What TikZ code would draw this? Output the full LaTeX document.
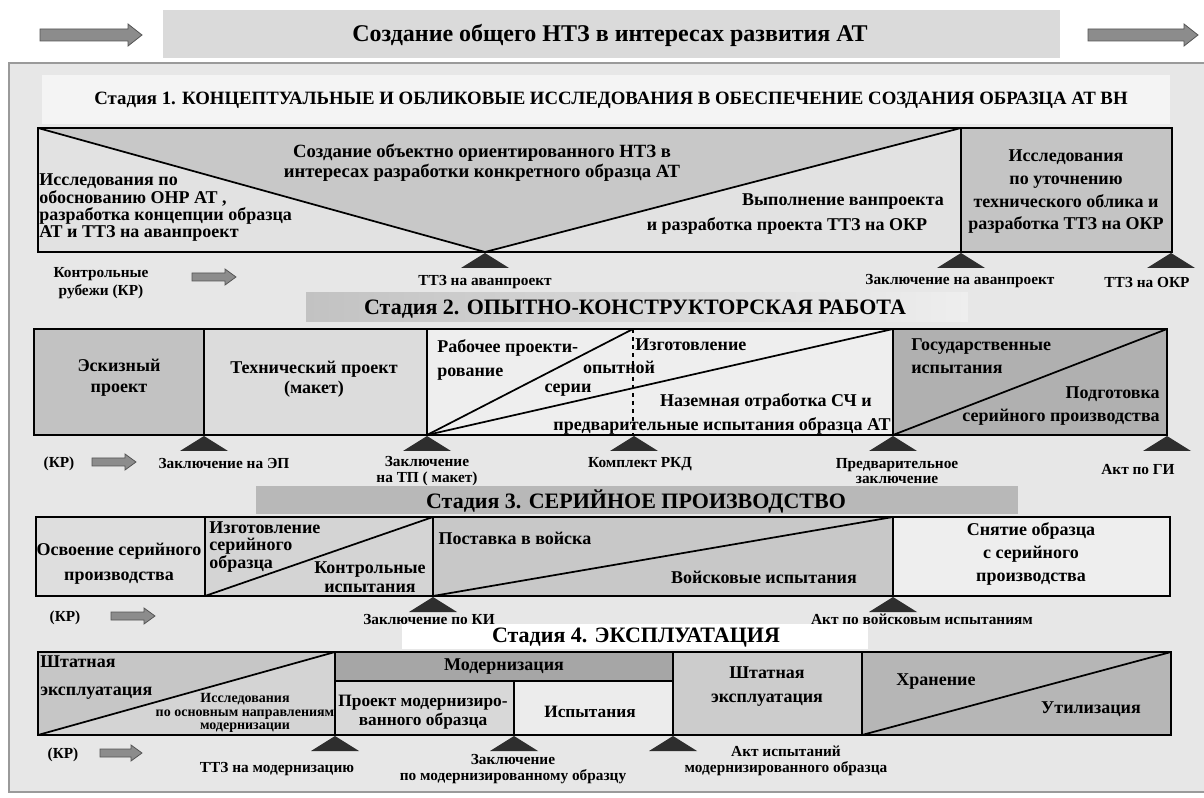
\documentclass[tikz,border=0pt]{standalone}
\usepackage{fontspec}
\setmainfont{Liberation Serif}
\definecolor{bgc}{HTML}{E7E7E7}
\definecolor{framec}{HTML}{9A9A9A}
\definecolor{bannerc}{HTML}{DADADA}
\definecolor{s1hc}{HTML}{F4F4F4}
\definecolor{c1up}{HTML}{C8C8C8}
\definecolor{c1lo}{HTML}{E2E2E2}
\definecolor{c1r}{HTML}{C4C4C4}
\definecolor{c2a}{HTML}{C2C2C2}
\definecolor{c2b}{HTML}{DCDCDC}
\definecolor{c2c}{HTML}{EEEEEE}
\definecolor{c2d}{HTML}{B0B0B0}
\definecolor{c3h}{HTML}{B8B8B8}
\definecolor{c3a}{HTML}{DEDEDE}
\definecolor{c3b}{HTML}{D4D4D4}
\definecolor{c3c}{HTML}{C8C8C8}
\definecolor{c3d}{HTML}{EEEEEE}
\definecolor{c4a}{HTML}{C6C6C6}
\definecolor{c4b}{HTML}{D4D4D4}
\definecolor{c4m}{HTML}{A6A6A6}
\definecolor{c4p}{HTML}{D8D8D8}
\definecolor{c4i}{HTML}{ECECEC}
\definecolor{c4s}{HTML}{CCCCCC}
\definecolor{c4h}{HTML}{B6B6B6}
\definecolor{mkc}{HTML}{2E2E2E}
\definecolor{arrf}{HTML}{8C8C8C}
\definecolor{arrl}{HTML}{555555}
\newcommand\barrow[6]{\filldraw[fill=arrf,draw=arrl,line width=0.6pt] (#1,{#3-#4}) -- ({#2-#6},{#3-#4}) -- ({#2-#6},{#3-#5}) -- (#2,#3) -- ({#2-#6},{#3+#5}) -- ({#2-#6},{#3+#4}) -- (#1,{#3+#4}) -- cycle;}
\newcommand\mk[2]{\fill[mkc] (#1,#2) -- ({#1+24},{#2+15}) -- ({#1-24},{#2+15}) -- cycle;}
\begin{document}
\begin{tikzpicture}[x=0.75pt,y=-0.75pt,
  every node/.style={inner sep=0pt,align=center},
  box/.style={draw=black,line width=1.4pt},
  ln/.style={line width=1.3pt,line cap=round},
  fs/.style 2 args={font=\bfseries\fontsize{#1}{#2}\selectfont}]
\useasboundingbox (0,0) rectangle (1204,798);
\fill[white] (0,0) rectangle (1204,798);
% frame
\fill[bgc] (9,63) rectangle (1204,792);
\draw[framec,line width=1.5pt] (1210,63) -- (9,63) -- (9,792) -- (1210,792);
% title
\fill[bannerc] (163,10) rectangle (1060,58);
\node[fs={18}{20}] (title) at (610,35) {Создание общего НТЗ в интересах развития АТ};
\barrow{40}{142}{35}{6}{11}{14}
\barrow{1088}{1198}{35}{6}{11}{14}
% ---------- stage 1
\fill[s1hc] (42,75) rectangle (1170,124);
\node[fs={14.1}{16}] (h1) at (611,100) {Стадия 1. КОНЦЕПТУАЛЬНЫЕ И ОБЛИКОВЫЕ ИССЛЕДОВАНИЯ В ОБЕСПЕЧЕНИЕ СОЗДАНИЯ ОБРАЗЦА АТ ВН};
\fill[c1lo] (38,128) rectangle (961,252);
\fill[c1up] (38,128) -- (485,252) -- (961,128) -- cycle;
\fill[c1r] (961,128) rectangle (1172,252);
\draw[ln] (38,128) -- (485,252) -- (961,128);
\draw[box] (38,128) rectangle (1172,252);
\draw[box] (961,128) -- (961,252);
\node[fs={13.5}{13}, anchor=west, align=left] (s1a) at (39,208) {Исследования по\\обоснованию ОНР АТ ,\\разработка концепции образца\\АТ и ТТЗ на аванпроект};
\node[fs={14}{15}] (s1b) at (482,163) {Создание объектно ориентированного НТЗ в\\интересах разработки конкретного образца АТ};
\node[fs={13.5}{15}] (s1c) at (843,202) {Выполнение ванпроекта};
\node[fs={13.5}{15}] (s1d) at (787,226) {и разработка проекта ТТЗ на ОКР};
\node[fs={13.5}{17}] (s1e) at (1066,192) {Исследования\\по уточнению\\технического облика и\\разработка ТТЗ на ОКР};
\mk{485}{253}\mk{961}{253}\mk{1171}{253}
\node[fs={11.5}{14}] (kr1) at (101,283) {Контрольные\\рубежи (КР)};
\barrow{192}{236}{277}{4}{8}{11}
\node[fs={11.5}{14}] (m11) at (485,282) {ТТЗ на аванпроект};
\node[fs={11.5}{14}] (m12) at (960,281) {Заключение на аванпроект};
\node[fs={11.5}{14}] (m13) at (1147,283) {ТТЗ на ОКР};
% ---------- stage 2
\shade[left color=c2a, right color=c2c] (306,293) rectangle (968,322);
\node[fs={16.5}{18}] (h2) at (635,309) {Стадия 2. ОПЫТНО-КОНСТРУКТОРСКАЯ РАБОТА};
\fill[c2a] (34,329) rectangle (204,435);
\fill[c2b] (204,329) rectangle (427,435);
\fill[c2c] (427,329) rectangle (893,435);
\fill[c2d] (893,329) rectangle (1167,435);
\draw[ln] (427,435) -- (633,329);
\draw[ln] (427,435) -- (893,329);
\draw[ln] (893,435) -- (1167,329);
\draw[dashed,line width=0.9pt] (633,329) -- (633,435);
\draw[box] (34,329) rectangle (1167,435);
\draw[box] (204,329) -- (204,435) (427,329) -- (427,435) (893,329) -- (893,435);
\node[fs={13.5}{16}] (s2a) at (119,378) {Эскизный\\проект};
\node[fs={13.5}{15}] (s2b) at (314,379) {Технический проект\\(макет)};
\node[fs={13.5}{18}, anchor=west, align=left] (s2c) at (437,360) {Рабочее проекти-\\рование};
\node[fs={13.5}{15}] (s2d) at (619,367) {опытной};
\node[fs={13.5}{15}] (s2e) at (568,390) {серии};
\node[fs={13.5}{15}, anchor=west] (s2f) at (635,345) {Изготовление};
\node[fs={13.5}{15}] (s2g) at (766,402) {Наземная отработка СЧ и};
\node[fs={13.5}{15}] (s2h) at (722,426) {предварительные испытания образца АТ};
\node[fs={13.5}{17}, anchor=west, align=left] (s2i) at (911,356) {Государственные\\испытания};
\node[fs={13.5}{17}, anchor=east, align=right] (s2j) at (1160,406) {Подготовка\\серийного производства};
\mk{204}{436}\mk{427}{436}\mk{634}{436}\mk{893}{436}\mk{1167}{436}
\node[fs={11.5}{14}] (kr2) at (59,464) {(КР)};
\barrow{92}{136}{462}{4}{8}{11}
\node[fs={11.5}{14}] (m21) at (224,464) {Заключение на ЭП};
\node[fs={11.5}{12}] (m22) at (427,471) {Заключение\\на ТП ( макет)};
\node[fs={11.5}{14}] (m23) at (640,464) {Комплект РКД};
\node[fs={11.5}{11.5}] (m24) at (897,471) {Предварительное\\заключение};
\node[fs={11.5}{14}] (m25) at (1138,470) {Акт по ГИ};
% ---------- stage 3
\fill[c3h] (256,486) rectangle (1018,514);
\node[fs={16.5}{18}] (h3) at (636,501) {Стадия 3. СЕРИЙНОЕ ПРОИЗВОДСТВО};
\fill[c3a] (36,517) rectangle (205,596);
\fill[c3b] (205,517) rectangle (433,596);
\fill[c3c] (433,517) rectangle (893,596);
\fill[c3d] (893,517) rectangle (1170,596);
\draw[ln] (205,596) -- (433,517);
\draw[ln] (433,596) -- (893,517);
\draw[box] (36,517) rectangle (1170,596);
\draw[box] (205,517) -- (205,596) (433,517) -- (433,596) (893,517) -- (893,596);
\node[fs={13.5}{19}] (s3a) at (119,564) {Освоение серийного\\производства};
\node[fs={13.5}{13}, anchor=west, align=left] (s3b) at (209,547) {Изготовление\\серийного\\образца};
\node[fs={13.5}{14.5}] (s3c) at (370,577) {Контрольные\\испытания};
\node[fs={13.5}{15}] (s3d) at (515,538) {Поставка в войска};
\node[fs={13.5}{15}] (s3e) at (764,577) {Войсковые испытания};
\node[fs={13.5}{17}] (s3f) at (1031,554) {Снятие образца\\с серийного\\производства};
\mk{433}{597}\mk{893}{597}
% stage 4 header band (behind the stage 3 labels)
\fill[white] (402,624) rectangle (868,649);
\node[fs={11.5}{14}] (kr3) at (65,618) {(КР)};
\barrow{111}{155}{616}{4}{8}{11}
\node[fs={11.5}{14}] (m31) at (429,619) {Заключение по КИ};
\node[fs={11.5}{14}] (m32) at (922,619) {Акт по войсковым испытаниям};
% ---------- stage 4
\node[fs={16.5}{18}] (h4) at (636,638) {Стадия 4. ЭКСПЛУАТАЦИЯ};
\fill[c4a] (38,652) -- (335,652) -- (38,735) -- cycle;
\fill[c4b] (335,652) -- (335,735) -- (38,735) -- cycle;
\fill[c4m] (335,652) rectangle (673,681);
\fill[c4p] (335,681) rectangle (514,735);
\fill[c4i] (514,681) rectangle (673,735);
\fill[c4s] (673,652) rectangle (862,735);
\fill[c4h] (862,652) rectangle (1171,735);
\draw[ln] (38,735) -- (335,652);
\draw[ln] (862,735) -- (1171,652);
\draw[box] (38,652) rectangle (1171,735);
\draw[box] (335,652) -- (335,735) (673,652) -- (673,735) (862,652) -- (862,735) (335,681) -- (673,681) (514,681) -- (514,735);
\node[fs={13.5}{21}, anchor=west, align=left] (s4a) at (40,678) {Штатная\\эксплуатация};
\node[fs={10.5}{10}] (s4b) at (245,713) {Исследования\\по основным направлениям\\модернизации};
\node[fs={13.5}{15}] (s4c) at (504,667) {Модернизация};
\node[fs={13}{14}] (s4d) at (423,712) {Проект модернизиро-\\ванного образца};
\node[fs={13}{15}] (s4e) at (590,712) {Испытания};
\node[fs={13.5}{18}] (s4f) at (767,687) {Штатная\\эксплуатация};
\node[fs={13.5}{15}] (s4g) at (936,682) {Хранение};
\node[fs={13.5}{15}] (s4h) at (1091,709) {Утилизация};
\mk{335}{736}\mk{514}{736}\mk{673}{736}
\node[fs={11.5}{14}] (kr4) at (63,755) {(КР)};
\barrow{100}{142}{753}{4}{8}{11}
\node[fs={11.5}{14}] (m41) at (277,769) {ТТЗ на модернизацию};
\node[fs={11.5}{11.5}] (m42) at (513,769) {Заключение\\по модернизированному образцу};
\node[fs={11.5}{12}] (m43) at (786,761) {Акт испытаний\\модернизированного образца};
\end{tikzpicture}
\end{document}
